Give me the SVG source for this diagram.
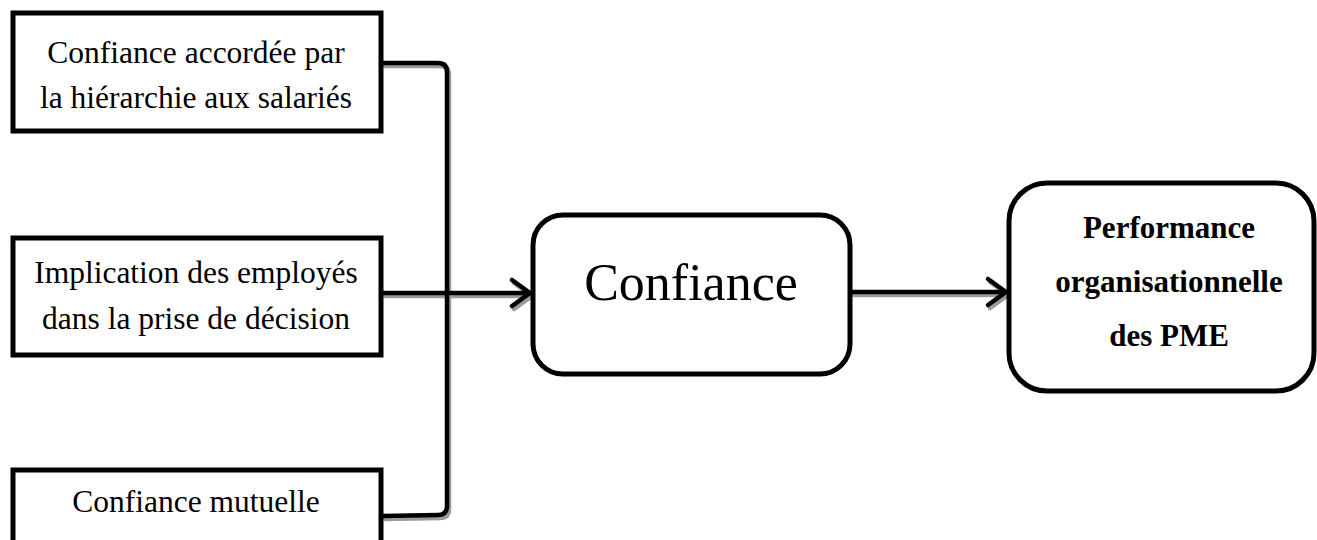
<svg xmlns="http://www.w3.org/2000/svg" width="1317" height="540" viewBox="0 0 1317 540">
  <style>
    .box { fill: #ffffff; stroke: #000000; stroke-width: 5; }
    .rbox { fill: #ffffff; stroke: #000000; stroke-width: 5; }
    .lbl { font-family: "Liberation Serif", "Times New Roman", "DejaVu Serif", serif; font-size: 31.5px; fill: #000000; text-anchor: middle; }
    .big { font-family: "Liberation Serif", "Times New Roman", "DejaVu Serif", serif; font-size: 52px; fill: #000000; text-anchor: middle; }
    .bold { font-family: "Liberation Serif", "Times New Roman", "DejaVu Serif", serif; font-size: 31px; font-weight: bold; fill: #000000; text-anchor: middle; }
    .wire { fill: none; stroke: #000000; stroke-width: 4.5; stroke-linejoin: round; stroke-linecap: round; }
    .shade { fill: none; stroke: #9a9a9a; stroke-width: 4.5; stroke-linejoin: round; stroke-linecap: round; }
  </style>

  <rect width="1317" height="540" fill="#ffffff"/>

  <!-- connectors: bracket joining the three factors, and the two arrows -->
  <g id="connectors">
    <g transform="translate(2,3)">
      <path class="shade" d="M383 63 L438 63 Q447 63 447 72 L447 506 Q447 515 438 515 L383 516"/>
      <path class="shade" d="M383 293 L529 293 M512 280 L530 293 L512 306"/>
      <path class="shade" d="M852 292 L1005 292 M988 279 L1006 292 L988 305"/>
    </g>
    <path class="wire" d="M383 63 L438 63 Q447 63 447 72 L447 506 Q447 515 438 515 L383 516"/>
    <path class="wire" d="M383 293 L529 293 M512 280 L530 293 L512 306"/>
    <path class="wire" d="M852 292 L1005 292 M988 279 L1006 292 L988 305"/>
  </g>

  <g id="node-hierarchie">
    <rect class="box" x="13" y="13" width="368" height="118"/>
    <text class="lbl" x="196" y="63">Confiance accordée par</text>
    <text class="lbl" x="196" y="108">la hiérarchie aux salariés</text>
  </g>

  <g id="node-implication">
    <rect class="box" x="13" y="238" width="368" height="117"/>
    <text class="lbl" x="196" y="283">Implication des employés</text>
    <text class="lbl" x="196" y="329">dans la prise de décision</text>
  </g>

  <g id="node-mutuelle">
    <rect class="box" x="13" y="470" width="368" height="100"/>
    <text class="lbl" x="196" y="512">Confiance mutuelle</text>
  </g>

  <g id="node-confiance">
    <rect class="rbox" x="533" y="215" width="317" height="159" rx="30" ry="30"/>
    <text class="big" x="691" y="300">Confiance</text>
  </g>

  <g id="node-performance">
    <rect class="rbox" x="1009" y="183" width="305" height="208" rx="38" ry="38"/>
    <text class="bold" x="1169" y="238">Performance</text>
    <text class="bold" x="1169" y="292">organisationnelle</text>
    <text class="bold" x="1169" y="346">des PME</text>
  </g>
</svg>
